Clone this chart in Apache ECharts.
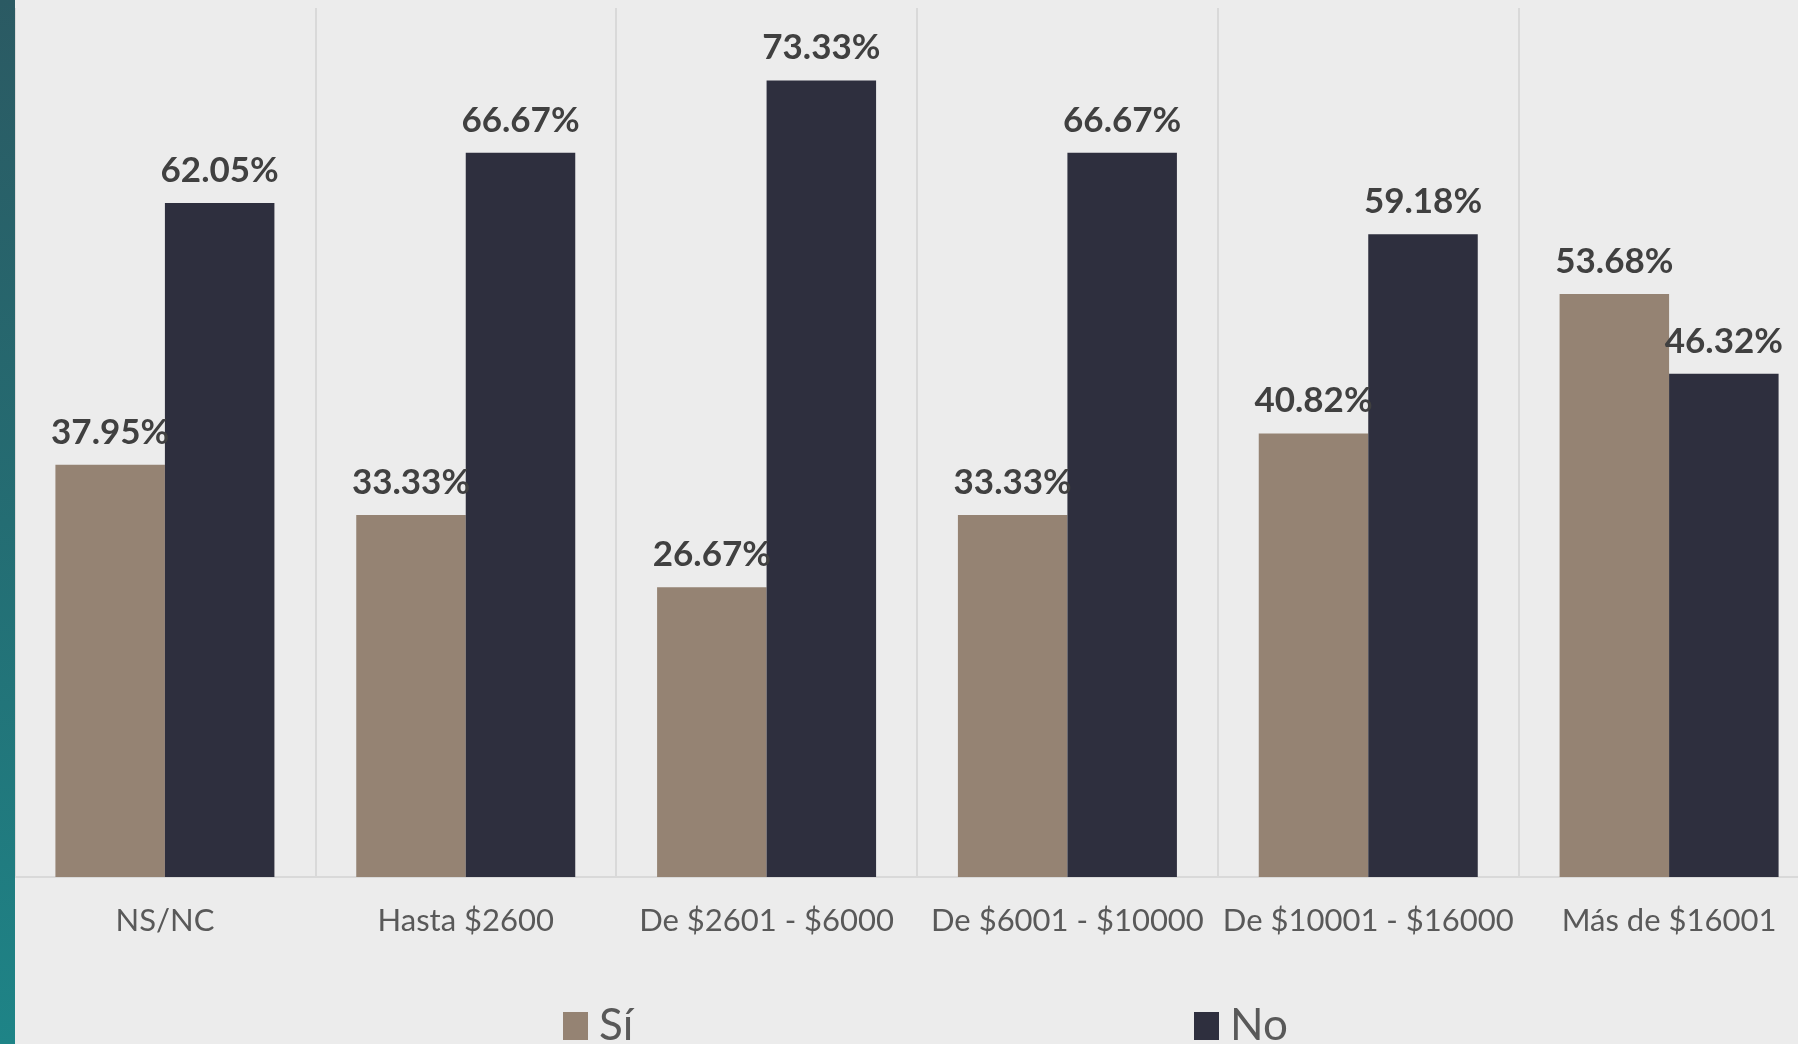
<!DOCTYPE html>
<html>
<head>
<meta charset="utf-8">
<title>Sí / No por nivel de ingreso</title>
<script src="https://cdn.jsdelivr.net/npm/echarts@6/dist/echarts.min.js"></script>
<style>
  html, body { margin: 0; padding: 0; background: #ececec; overflow: hidden; }
  /* the last category runs a little past the right edge of the page */
  #chart { width: 1822px; height: 1044px; }
</style>
</head>
<body>
<div id="chart"></div>
<script>
// Income brackets and the share answering each option (%)
const categories = ['NS/NC', 'Hasta $2600', 'De $2601 - $6000', 'De $6001 - $10000', 'De $10001 - $16000', 'Más de $16001'];
const siValues = [37.95, 33.33, 26.67, 33.33, 40.82, 53.68];
const noValues = [62.05, 66.67, 73.33, 66.67, 59.18, 46.32];
const seriesNames = ['Sí', 'No'];

const COLOR_SI = '#958373';
const COLOR_NO = '#2e2f3e';
const FONT = 'Lato, "Open Sans", sans-serif';

const chart = echarts.init(document.getElementById('chart'), null, { renderer: 'canvas' });

const labelStyle = {
  show: true,
  position: 'top',
  distance: 15,
  color: '#404040',
  fontFamily: FONT,
  fontWeight: 'bold',
  fontSize: 35,
  formatter: p => p.value.toFixed(2) + '%'
};

const legendText = { fontFamily: FONT, fontSize: 44, color: '#595959', padding: [0, 0, 0, 6] };

chart.setOption({
  backgroundColor: '#ececec',
  animation: false,
  graphic: [{
    type: 'rect',
    left: 0, top: 0,
    shape: { width: 15, height: 1044 },
    style: {
      fill: new echarts.graphic.LinearGradient(0, 0, 0, 1, [
        { offset: 0, color: '#2b5a63' },
        { offset: 0.5, color: '#246d73' },
        { offset: 1, color: '#1e8487' }
      ])
    },
    z: 100
  }],
  grid: { left: 14.5, top: 8, width: 1805, height: 869 },
  legend: [
    {
      data: [seriesNames[0]], left: 558, top: 999,
      icon: 'rect', itemWidth: 25, itemHeight: 28,
      textStyle: legendText
    },
    {
      data: [seriesNames[1]], left: 1189, top: 999,
      icon: 'rect', itemWidth: 25, itemHeight: 28,
      textStyle: legendText
    }
  ],
  xAxis: {
    type: 'category',
    data: categories,
    axisLine: { show: true, lineStyle: { color: '#d9d9d9', width: 2 } },
    axisTick: { show: false },
    splitLine: { show: true, interval: 0, lineStyle: { color: '#d9d9d9', width: 2 } },
    axisLabel: {
      interval: 0, margin: 28,
      fontFamily: FONT, fontSize: 31, color: '#595959'
    }
  },
  yAxis: {
    type: 'value', min: 0, max: 80,
    show: false,
    splitLine: { show: false }
  },
  series: [
    {
      name: seriesNames[0], type: 'bar', data: siValues,
      barWidth: 109.5, barGap: '0%',
      itemStyle: { color: COLOR_SI },
      label: labelStyle
    },
    {
      name: seriesNames[1], type: 'bar', data: noValues,
      barWidth: 109.5, barGap: '0%',
      itemStyle: { color: COLOR_NO },
      label: labelStyle
    }
  ]
});
</script>
</body>
</html>
